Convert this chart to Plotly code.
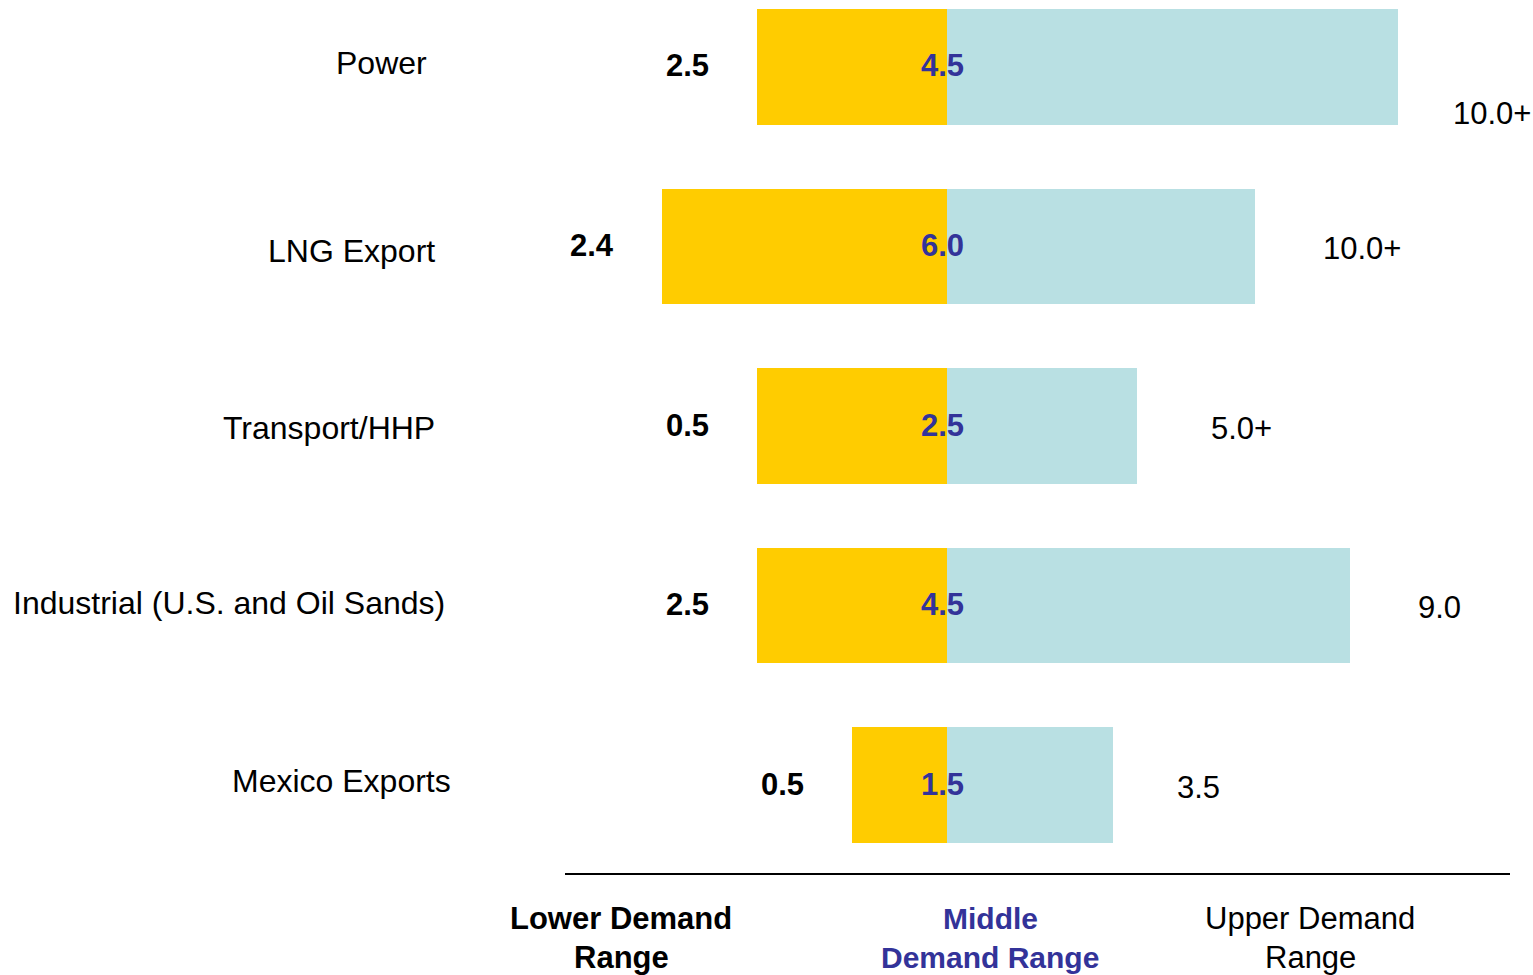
import plotly.graph_objects as go

# ---- data ----
categories = ["Power", "LNG Export", "Transport/HHP", "Industrial (U.S. and Oil Sands)", "Mexico Exports"]
lower_labels = ["2.5", "2.4", "0.5", "2.5", "0.5"]
middle_labels = ["4.5", "6.0", "2.5", "4.5", "1.5"]
upper_labels = ["10.0+", "10.0+", "5.0+", "9.0", "3.5"]
# bar extents (as drawn) left and right of the middle value
lower_extent = [2.0, 3.0, 2.0, 2.0, 1.0]
upper_extent = [4.75, 3.25, 2.0, 4.25, 1.75]
footer_labels = [["Lower Demand", "Range"], ["Middle", "Demand Range"], ["Upper Demand", "Range"]]

# ---- style ----
FONT = "Liberation Sans, Arial, sans-serif"
YELLOW = "#FFCC00"
LIGHTBLUE = "#B9E0E3"
DARKBLUE = "#333399"
W, H = 1533, 975
L, R, T, B = 565, 23, 0, 102
PW = W - L - R
PH = H - T - B

def px_to_paper_x(px):
    return (px - L) / PW

def py_to_paper_y(py):
    return (PH - py) / PH

fig = go.Figure()
fig.add_trace(go.Bar(
    y=categories, x=[-v for v in lower_extent], orientation="h",
    marker=dict(color=YELLOW, line=dict(width=0)), width=0.645,
    hoverinfo="skip", showlegend=False))
fig.add_trace(go.Bar(
    y=categories, x=upper_extent, orientation="h",
    marker=dict(color=LIGHTBLUE, line=dict(width=0)), width=0.645,
    hoverinfo="skip", showlegend=False))

annotations = []
# category label placement (right edge in px, vertical nudge)
cat_right_px = [429, 437, 437, 447, 453]
cat_yshift = [4, -5, -2, 3, 4]
for c, rpx, ys in zip(categories, cat_right_px, cat_yshift):
    annotations.append(dict(
        xref="paper", yref="y", x=px_to_paper_x(rpx), y=c, xanchor="right", yanchor="middle",
        text=c, showarrow=False, yshift=ys,
        font=dict(family=FONT, size=32, color="black")))

up_xshifts = [53, 66, 72, 66, 62]
up_yshifts = [-47, -2, -2, -2, -2]
for i, c in enumerate(categories):
    annotations.append(dict(
        xref="x", yref="y", x=-lower_extent[i], y=c, xanchor="right", yanchor="middle",
        xshift=-46, yshift=1, text="<b>%s</b>" % lower_labels[i], showarrow=False,
        font=dict(family=FONT, size=31, color="black")))
    annotations.append(dict(
        xref="x", yref="y", x=0, y=c, xanchor="center", yanchor="middle",
        xshift=-4, yshift=1, text="<b>%s</b>" % middle_labels[i], showarrow=False,
        font=dict(family=FONT, size=31, color=DARKBLUE)))
    annotations.append(dict(
        xref="x", yref="y", x=upper_extent[i], y=c, xanchor="left", yanchor="middle",
        xshift=up_xshifts[i], yshift=up_yshifts[i], text=upper_labels[i], showarrow=False,
        font=dict(family=FONT, size=31, color="black")))

footer_x_px = [621, 990, 1310]
footer_fonts = [
    dict(family=FONT, size=31, color="black"),
    dict(family=FONT, size=30, color=DARKBLUE),
    dict(family=FONT, size=31, color="black"),
]
footer_bold = [True, True, False]
line_y_px = [918, 957]
for lines, fx, ff, bold in zip(footer_labels, footer_x_px, footer_fonts, footer_bold):
    for ln, ly in zip(lines, line_y_px):
        annotations.append(dict(
            xref="paper", yref="paper", x=px_to_paper_x(fx), y=py_to_paper_y(ly),
            xanchor="center", yanchor="middle", showarrow=False,
            text=("<b>%s</b>" % ln) if bold else ln, font=ff))

fig.update_layout(
    width=W, height=H,
    margin=dict(l=L, r=R, t=T, b=B, pad=0),
    paper_bgcolor="white", plot_bgcolor="white",
    barmode="relative", bargap=0,
    annotations=annotations,
    xaxis=dict(range=[-4.02, 5.93], showgrid=False, zeroline=False, showticklabels=False,
               ticks="", showline=True, linecolor="black", linewidth=2, fixedrange=True),
    yaxis=dict(type="category", categoryorder="array", categoryarray=categories,
               range=[4.49, -0.373], showgrid=False, zeroline=False, showticklabels=False,
               ticks="", showline=False, fixedrange=True),
    font=dict(family=FONT),
)

fig.write_html(
    "out.html",
    config={"displayModeBar": False},
    post_script="document.body.style.margin='0';document.body.style.overflow='hidden';"
                "document.documentElement.style.overflow='hidden';",
)
